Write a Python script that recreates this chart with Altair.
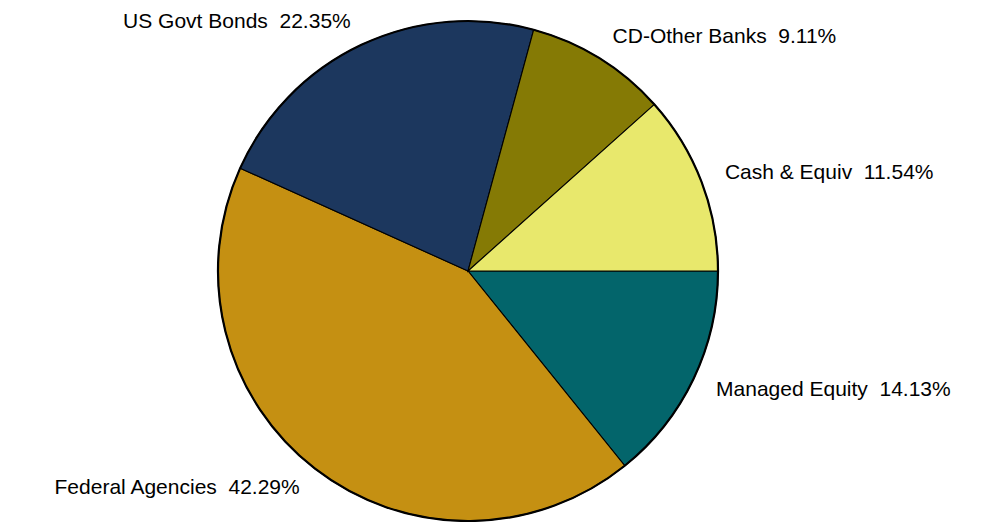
import math
import altair as alt
import pandas as pd

# Slices in clockwise order starting at 3 o'clock
categories = ["Managed Equity", "Federal Agencies", "US Govt Bonds", "CD-Other Banks", "Cash & Equiv"]
values = [14.13, 42.29, 22.35, 9.11, 11.54]
colors = ["#03656B", "#C59012", "#1C375E", "#857A05", "#E8E86C"]

df = pd.DataFrame({
    "category": categories,
    "value": values,
    "order": list(range(len(categories))),
})
df["label"] = [f"{c} \u00a0{v:.2f}%" for c, v in zip(categories, values)]

CX, CY, R = 460, 263, 250
theta_scale = alt.Scale(range=[math.pi / 2, math.pi / 2 + 2 * math.pi])

base = alt.Chart(df)

slices = base.mark_arc(radius=R, stroke="black", strokeWidth=1.1).encode(
    theta=alt.Theta("value:Q", stack=True, scale=theta_scale),
    color=alt.Color("category:N", scale=alt.Scale(domain=categories, range=colors), legend=None),
    order=alt.Order("order:Q"),
    x=alt.value(CX),
    y=alt.value(CY),
)

ring = base.mark_arc(radius=R, radius2=R, fill=None, stroke="black", strokeWidth=2.2).encode(
    theta=alt.Theta("value:Q", stack=True, scale=theta_scale),
    order=alt.Order("order:Q"),
    x=alt.value(CX),
    y=alt.value(CY),
)


def label_layer(right_side):
    side_filter = "datum.side == 'right'" if right_side else "datum.side == 'left'"
    return base.transform_window(
        cum="sum(value)", sort=[alt.SortField("order")], frame=[None, 0]
    ).transform_joinaggregate(
        total="sum(value)"
    ).transform_calculate(
        mid="datum.cum - datum.value / 2",
        side="cos(2 * PI * (datum.cum - datum.value / 2) / datum.total) > 0 ? 'right' : 'left'",
    ).transform_filter(side_filter).mark_text(
        radius=275,
        align="left" if right_side else "right",
        baseline="middle",
        font="Liberation Sans, Arial, sans-serif",
        fontSize=21,
        color="black",
    ).encode(
        theta=alt.Theta("mid:Q", stack=None, scale=theta_scale),
        text="label:N",
        x=alt.value(CX),
        y=alt.value(CY),
    )


chart = alt.layer(slices, ring, label_layer(True), label_layer(False)).properties(
    width=967, height=514, padding=0, autosize="none"
).configure_view(stroke=None)

chart.save("out.html", embed_options={"renderer": "svg", "actions": False})
